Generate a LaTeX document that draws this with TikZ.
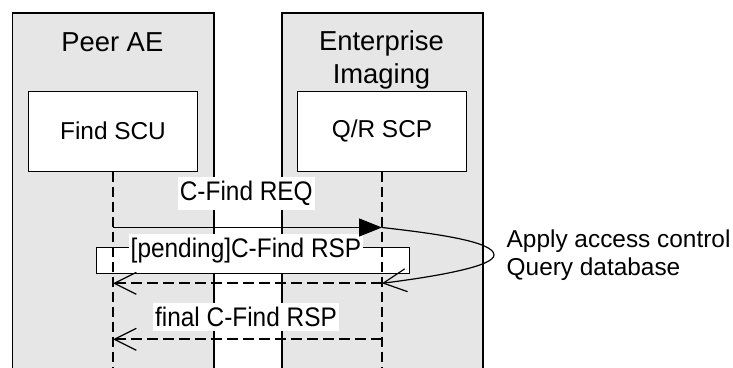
\documentclass[tikz,border=0pt]{standalone}
\usepackage{fontspec}
\setmainfont{Liberation Sans}
\usepackage{graphicx}
\usetikzlibrary{arrows.meta}
\definecolor{lanegray}{RGB}{230,230,230}
\newcommand\msgtxt[1]{\scalebox{1}[1.1]{#1}}
\begin{document}
\begin{tikzpicture}[x=1pt,y=-1pt,
  lane/.style={draw, line width=1.7pt, fill=lanegray, anchor=north west, inner sep=0pt, minimum height=360pt},
  comp/.style={draw, line width=1pt, fill=white, inner sep=0pt, minimum width=169pt, minimum height=79.5pt, font=\fontsize{24.4}{28}\selectfont},
  title/.style={anchor=base, inner sep=0pt, font=\fontsize{27.4}{32}\selectfont},
  lifeline/.style={line width=2pt, dash pattern=on 10pt off 5pt},
  msglabel/.style={anchor=base, fill=white, inner xsep=2pt, inner ysep=4pt, font=\fontsize{24.4}{28}\selectfont},
  notetext/.style={anchor=base west, inner sep=0pt, font=\fontsize{24.4}{28}\selectfont},
  reqarrow/.style={line width=1.2pt, -{Triangle[length=23pt,width=18pt]}},
  rsparrow/.style={line width=2pt, dash pattern=on 11pt off 5pt, -{Straight Barb[length=22pt,width=22pt,line width=1.2pt]}},
  looparrow/.style={line width=1.2pt, -{Straight Barb[length=23pt,width=23pt,line width=1.2pt]}}
]
\useasboundingbox (0,0) rectangle (733,367);

% swimlanes
\node[lane, minimum width=201.5pt] (peer) at (11.5,12) {};
\node[lane, minimum width=201pt] (ent) at (281,12) {};

\node[title] (peert) at (112.3,51.5) {Peer AE};
\node[title] (entt1) at (381.5,50.7) {Enterprise};
\node[title] (entt2) at (381.5,83.3) {Imaging};

% components
\node[comp] (find) at (113,131.25) {Find SCU};
\node[comp] (qr) at (382,131.25) {Q/R SCP};

% pending box
\node[draw, line width=1pt, fill=white, inner sep=0pt, minimum width=313.5pt, minimum height=26.7pt] (pendbox) at (252.75,260.35) {};

% lifelines
\coordinate (peerend) at (113,372);
\coordinate (entend) at (382,372);
\draw[lifeline] (find.south) -- (peerend);
\draw[lifeline] (qr.south) -- (entend);

% message labels
\node[msglabel] (reqlbl) at (246.3,200.7) {\msgtxt{C-Find REQ}};
\node[msglabel] (pendlbl) at (246,257) {\msgtxt{[pending]C-Find RSP}};
\node[msglabel] (finallbl) at (246,326.7) {\msgtxt{final C-Find RSP}};

% arrow end points on lifelines
\coordinate (a1) at (113,227.5);
\coordinate (b1) at (382,227.5);
\coordinate (b2) at (382,283.3);
\coordinate (a2) at (113,283.3);
\coordinate (b3) at (382,339.3);
\coordinate (a3) at (113,339.3);

\draw[reqarrow] (a1) -- (b1);
\draw[looparrow] (b1) .. controls (440,234) and (494,242) .. (494,255)
                      .. controls (494,266) and (440,276) .. (b2);
\draw[rsparrow] (b2) -- (a2);
\draw[rsparrow] (b3) -- (a3);

% note
\node[notetext] (note1) at (506.5,247.7) {Apply access control};
\node[notetext] (note2) at (506.5,275) {Query database};
\end{tikzpicture}
\end{document}
